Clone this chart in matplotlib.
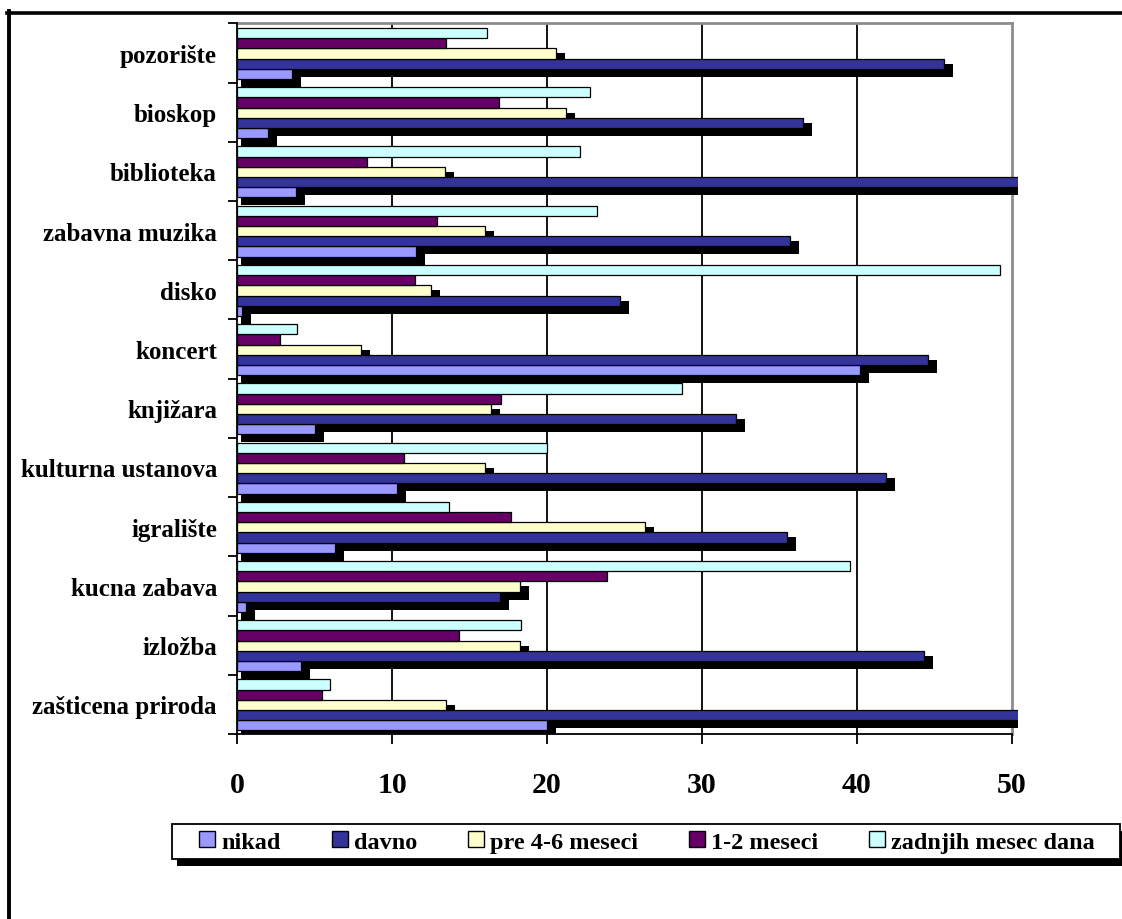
import matplotlib
matplotlib.use('Agg')
import matplotlib.pyplot as plt
import numpy as np
from matplotlib.patches import Patch, Rectangle
from matplotlib.lines import Line2D

categories = ["pozorište", "bioskop", "biblioteka", "zabavna muzika", "disko", "koncert",
              "knjižara", "kulturna ustanova", "igralište", "kucna zabava", "izložba",
              "zašticena priroda"]
series_names = ["nikad", "davno", "pre 4-6 meseci", "1-2 meseci", "zadnjih mesec dana"]
nikad = [3.55, 2.0, 3.8, 11.55, 0.3, 40.2, 5.05, 10.3, 6.3, 0.6, 4.15, 20.0]
davno = [45.6, 36.5, 52.0, 35.7, 24.7, 44.55, 32.2, 41.9, 35.5, 16.95, 44.3, 52.0]
pre_4_6 = [20.6, 21.2, 13.4, 16.0, 12.5, 8.0, 16.4, 16.0, 26.3, 18.25, 18.25, 13.5]
mes_1_2 = [13.5, 16.9, 8.4, 12.9, 11.5, 2.8, 17.05, 10.8, 17.7, 23.85, 14.3, 5.5]
zadnjih = [16.15, 22.8, 22.1, 23.2, 49.2, 3.85, 28.7, 20.0, 13.65, 39.55, 18.3, 5.98]
colors = ["#9999FF", "#333399", "#FFFFCC", "#660066", "#CCFFFF"]
has_shadow = [True, True, True, False, False]
x_ticks = [0, 10, 20, 30, 40, 50]

plt.rcParams['font.family'] = ['Liberation Serif', 'DejaVu Serif']
plt.rcParams['font.weight'] = 'bold'

W, H = 1122, 920
fig = plt.figure(figsize=(W / 100, H / 100), dpi=100)
fig.patch.set_facecolor('white')

ax_left, ax_right, ax_top, ax_bottom = 237, 1018, 24.3, 735
ax = fig.add_axes([ax_left / W, (H - ax_bottom) / H, (ax_right - ax_left) / W, (ax_bottom - ax_top) / H])

n = len(categories)
ypos = np.arange(n)[::-1]
px_x = 50 / 775.0
px_y = 1 / 59.2
h = 10.2 * px_y

series = [nikad, davno, pre_4_6, mes_1_2, zadnjih]
for k, (vals, c, sh) in enumerate(zip(series, colors, has_shadow)):
    yc = ypos + (k - 2) * h - 0.6 * px_y
    vals = np.asarray(vals, dtype=float)
    if sh:
        ax.barh(yc - 6.5 * px_y, vals + 5 * px_x, left=4 * px_x, height=h + 3 * px_y,
                color='black', lw=0, zorder=2)
    ax.barh(yc, vals, height=h, color=c, edgecolor='black', lw=0.9, zorder=3)

ax.set_xlim(0, (ax_right - ax_left) * px_x)
ax.set_ylim(-0.5, n - 0.5)

for t in x_ticks[1:-1]:
    ax.axvline(t, color='black', lw=1.3, zorder=1)

ax.spines['left'].set_color('black')
ax.spines['left'].set_linewidth(1.3)
ax.spines['left'].set_zorder(4)
ax.spines['bottom'].set_color('black')
ax.spines['bottom'].set_linewidth(1.3)
ax.spines['bottom'].set_bounds(0, 50)
ax.spines['top'].set_color('#8c8c8c')
ax.spines['top'].set_linewidth(2.0)
ax.spines['top'].set_bounds(0, 50)
ax.spines['right'].set_position(('data', 50))
ax.spines['right'].set_color('#8c8c8c')
ax.spines['right'].set_linewidth(2.0)
ax.spines['right'].set_zorder(1.5)

ax.set_xticks(x_ticks)
ax.set_xticklabels([str(t) for t in x_ticks])
ax.tick_params(axis='x', direction='out', length=7, width=1.3, pad=20, labelsize=21.5, colors='black')
ax.set_yticks(ypos)
ax.set_yticklabels(categories)
ax.tick_params(axis='y', which='major', length=0, pad=14.4, labelsize=18)
ax.set_yticks(np.arange(-0.5, n, 1.0), minor=True)
ax.tick_params(axis='y', which='minor', direction='out', length=6.5, width=1.3)
for lbl in ax.get_xticklabels() + ax.get_yticklabels():
    lbl.set_fontweight('bold')

# legend box with shadow
lx0, lx1, ly0, ly1 = 172, 1120, 825, 860
fig.patches.append(Rectangle(((lx0 + 5) / W, (H - ly1 - 7) / H), (lx1 - lx0) / W, (ly1 - ly0) / H,
                             transform=fig.transFigure, facecolor='black', edgecolor='none', zorder=1))
fig.patches.append(Rectangle((lx0 / W, (H - ly1) / H), (lx1 - lx0) / W, (ly1 - ly0) / H,
                             transform=fig.transFigure, facecolor='white', edgecolor='black',
                             lw=1.3, zorder=2))
handles = [Patch(facecolor=c, edgecolor='black', lw=1.0) for c in colors]
fs = 17.5
em = fs * 100 / 72.0
leg = fig.legend(handles, series_names, ncol=5, loc='center',
                 bbox_to_anchor=((199 + 1095) / 2 / W, 1 - 843 / H),
                 frameon=False, fontsize=fs, handlelength=16 / em, handleheight=15 / em,
                 handletextpad=6 / em, columnspacing=51 / em, borderpad=0, borderaxespad=0,
                 prop={'weight': 'bold', 'size': fs})
leg.set_zorder(5)

# outer frame
fig.add_artist(Line2D([7 / W, 1.0], [1 - 13.5 / H, 1 - 13.5 / H], transform=fig.transFigure,
                      color='black', lw=2.6, solid_capstyle='projecting'))
fig.add_artist(Line2D([9 / W, 9 / W], [1 - 12 / H, 0.0], transform=fig.transFigure,
                      color='black', lw=2.8, solid_capstyle='projecting'))

fig.savefig('out.png', dpi=100, facecolor='white')
